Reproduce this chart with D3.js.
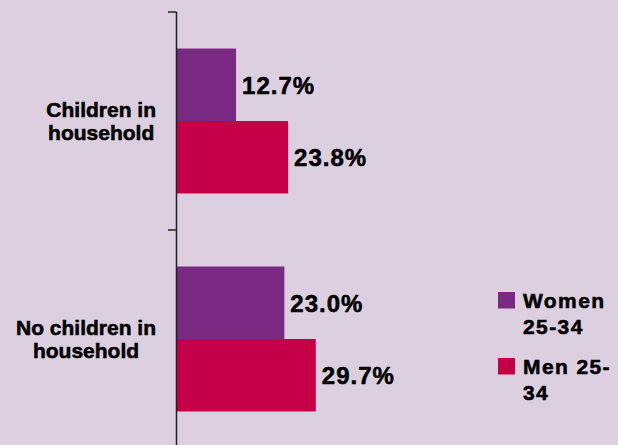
<!DOCTYPE html>
<html>
<head>
<meta charset="utf-8">
<script src="https://cdn.jsdelivr.net/npm/d3@7"></script>
<style>
  html, body { margin: 0; padding: 0; background: #DCD0E0; }
  svg { display: block; }
  text { font-family: "Liberation Sans", Arial, sans-serif; font-weight: bold; fill: #000;
         stroke: #000; stroke-width: 0.55; }
</style>
</head>
<body>
<svg id="chart" width="618" height="445"></svg>
<script>
// Share of 25-34 year olds, by household type
const categories = ["Children in household", "No children in household"];
const categoryLines = [["Children in", "household"], ["No children in", "household"]];
const seriesNames = ["Women 25-34", "Men 25-34"];
const legendLines = [["Women", "25-34"], ["Men 25-", "34"]];
const women = [12.7, 23.0];
const men = [23.8, 29.7];
const valueLabels = [["12.7%", "23.0%"], ["23.8%", "29.7%"]];

const colors = ["#7B2A83", "#C40046"];
const svg = d3.select("#chart");

const seriesValues = [women, men];

// Plot geometry
const axisX = 176.5;
const x = d3.scaleLinear().domain([0, 30]).range([axisX, axisX + 140.7]);
const y = d3.scaleBand().domain(categories).range([12, 448])
  .paddingInner(0.335).paddingOuter(0.1675);
const ySub = d3.scaleBand().domain(seriesNames).range([0, y.bandwidth()]);

// Bars with value labels
categories.forEach((c, ci) => {
  seriesNames.forEach((s, si) => {
    const v = seriesValues[si][ci];
    svg.append("rect")
      .attr("x", x(0))
      .attr("y", y(c) + ySub(s))
      .attr("width", x(v) - x(0))
      .attr("height", ySub.bandwidth())
      .attr("fill", colors[si]);
    svg.append("text")
      .attr("x", x(v) + 6)
      .attr("y", y(c) + ySub(s) + ySub.bandwidth() / 2 + 9)
      .attr("font-size", 24)
      .attr("letter-spacing", 1.0)
      .text(valueLabels[si][ci]);
  });
});

// Category axis with ticks at band boundaries
const step = y.step();
const bounds = [y.range()[0]].concat(categories.map(c => y(c) - step * y.paddingOuter() + step));
svg.append("line")
  .attr("x1", axisX).attr("x2", axisX)
  .attr("y1", y.range()[0]).attr("y2", y.range()[1])
  .attr("stroke", "#222").attr("stroke-width", 1.5);
bounds.forEach(b => {
  svg.append("line")
    .attr("x1", axisX - 8.5).attr("x2", axisX)
    .attr("y1", b).attr("y2", b)
    .attr("stroke", "#222").attr("stroke-width", 1.5);
});

// Category labels: lines centred on each other, block right-aligned to the axis
categories.forEach((c, ci) => {
  const lines = categoryLines[ci];
  const g = svg.append("g");
  const cy = y(c) + y.bandwidth() / 2;
  const lh = 23.3;
  const texts = lines.map((l, li) => g.append("text")
    .attr("font-size", 21)
    .attr("stroke-width", 0.4)
    .attr("text-anchor", "middle")
    .attr("y", cy - (lines.length - 1) * lh / 2 + li * lh + 7.5)
    .text(l));
  const maxW = d3.max(texts, t => t.node().getComputedTextLength());
  texts.forEach(t => t.attr("x", 156 - maxW / 2));
});

// Legend
const legendTop = [292, 358];
seriesNames.forEach((s, si) => {
  svg.append("rect")
    .attr("x", 498).attr("y", legendTop[si])
    .attr("width", 17).attr("height", 16.5)
    .attr("fill", colors[si]);
  legendLines[si].forEach((l, li) => {
    svg.append("text")
      .attr("x", 523)
      .attr("y", legendTop[si] + 15.5 + li * 26.3)
      .attr("font-size", 21)
      .attr("letter-spacing", 1.4)
      .text(l);
  });
});
</script>
</body>
</html>
